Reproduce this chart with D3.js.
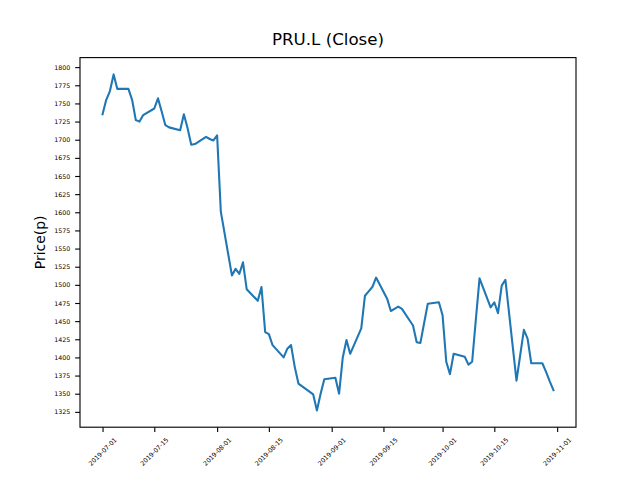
<!DOCTYPE html>
<html><head><meta charset="utf-8">
<script src="https://cdn.jsdelivr.net/npm/d3@7"></script>
<style>body{margin:0;background:#fff} svg{display:block} text{font-family:"DejaVu Sans",sans-serif}</style>
</head><body><svg id="c" width="640" height="480"></svg>
<script>
const dates = [
"2019-07-01","2019-07-02","2019-07-03","2019-07-04","2019-07-05",
"2019-07-08","2019-07-09","2019-07-10","2019-07-11","2019-07-12",
"2019-07-15","2019-07-16","2019-07-17","2019-07-18","2019-07-19",
"2019-07-22","2019-07-23","2019-07-24","2019-07-25","2019-07-26",
"2019-07-29","2019-07-30","2019-07-31","2019-08-01","2019-08-02",
"2019-08-05","2019-08-06","2019-08-07","2019-08-08","2019-08-09",
"2019-08-12","2019-08-13","2019-08-14","2019-08-15","2019-08-16",
"2019-08-19","2019-08-20","2019-08-21","2019-08-22","2019-08-23",
"2019-08-27","2019-08-28","2019-08-29","2019-08-30",
"2019-09-02","2019-09-03","2019-09-04","2019-09-05","2019-09-06",
"2019-09-09","2019-09-10","2019-09-11","2019-09-12","2019-09-13",
"2019-09-16","2019-09-17","2019-09-18","2019-09-19","2019-09-20",
"2019-09-23","2019-09-24","2019-09-25","2019-09-26","2019-09-27",
"2019-09-30","2019-10-01","2019-10-02","2019-10-03","2019-10-04",
"2019-10-07","2019-10-08","2019-10-09","2019-10-10","2019-10-11",
"2019-10-14","2019-10-15","2019-10-16","2019-10-17","2019-10-18",
"2019-10-21","2019-10-22","2019-10-23","2019-10-24","2019-10-25",
"2019-10-28","2019-10-29","2019-10-30","2019-10-31"];
const closes = [
1735,1755,1767,1790,1770,
1770,1755,1727,1725,1734,
1743,1757,1739,1720,1717,
1713,1735,1716,1693,1694,
1704,1701,1699,1706,1601,
1513,1522,1515,1531,1494,
1478,1497,1435,1432,1417,
1400,1412,1417,1387,1364,
1349,1327,1350,1370,
1372,1350,1400,1424,1405,
1440,1485,1491,1497,1510,
1481,1464,1467,1470,1467,
1444,1421,1420,1447,1474,
1476,1458,1394,1377,1405,
1401,1390,1394,1452,1509,
1469,1476,1461,1499,1507,
1368,1403,1438,1426,1392,
1392,1380,1367,1355];
const xTickDates = ["2019-07-01","2019-07-15","2019-08-01","2019-08-15","2019-09-01","2019-09-15","2019-10-01","2019-10-15","2019-11-01"];
const yTicks = [1325,1350,1375,1400,1425,1450,1475,1500,1525,1550,1575,1600,1625,1650,1675,1700,1725,1750,1775,1800];
const titleText = "PRU.L (Close)";
const yLabelText = "Price(p)";

const W=640,H=480,L=80,R=576,T=57.6,B=427.2;
const pt=100/72, tickLen=3.5*pt, pad=3.5*pt, fs=6.3;
const parse = d3.utcParse("%Y-%m-%d");
const data = dates.map((d,i)=>({date:parse(d), v:closes[i]}));
const xe = d3.extent(data,d=>d.date), xs = xe[1]-xe[0];
const x = d3.scaleUtc().domain([new Date(+xe[0]-0.05*xs), new Date(+xe[1]+0.05*xs)]).range([L,R]);
const ye = d3.extent(data,d=>d.v), ys = ye[1]-ye[0];
const y = d3.scaleLinear().domain([ye[0]-0.05*ys, ye[1]+0.05*ys]).range([B,T]);

const svg = d3.select("#c");
svg.append("rect").attr("width",W).attr("height",H).attr("fill","#fff");

svg.append("path").datum(data)
  .attr("d", d3.line().x(d=>x(d.date)).y(d=>y(d.v)))
  .attr("fill","none").attr("stroke","#1f77b4").attr("stroke-width",1.5*pt)
  .attr("stroke-linejoin","round").attr("stroke-linecap","square");

const gy = svg.append("g").attr("transform",`translate(${L},0)`)
  .call(d3.axisLeft(y).tickValues(yTicks).tickSize(tickLen).tickPadding(pad).tickFormat(d3.format("d")));
gy.select(".domain").remove();
gy.selectAll(".tick line").attr("stroke","#000").attr("stroke-width",0.8*pt);
gy.selectAll(".tick text").attr("font-size",fs).attr("fill","#000").attr("font-family","DejaVu Sans");

const gx = svg.append("g").attr("transform",`translate(0,${B})`)
  .call(d3.axisBottom(x).tickValues(xTickDates.map(parse)).tickSize(tickLen).tickPadding(pad).tickFormat(d3.utcFormat("%Y-%m-%d")));
gx.select(".domain").remove();
gx.selectAll(".tick line").attr("stroke","#000").attr("stroke-width",0.8*pt);
gx.selectAll(".tick text").each(function(){
  const t = d3.select(this);
  t.attr("font-size",fs).attr("fill","#000").attr("font-family","DejaVu Sans")
   .attr("dy",null).attr("text-anchor","end").attr("x",0).attr("y",0);
  const Lt = this.getComputedTextLength();
  const a = 0.76*fs, dsc = 0.24*fs;
  const ax = Math.SQRT1_2*(Lt + a - dsc)/2;
  const ay = tickLen + pad + Math.SQRT1_2*a;
  t.attr("transform",`translate(${ax},${ay}) rotate(-45)`);
});

svg.append("rect").attr("x",L).attr("y",T).attr("width",R-L).attr("height",B-T)
  .attr("fill","none").attr("stroke","#000").attr("stroke-width",0.8*pt);

svg.append("text").attr("x",(L+R)/2).attr("y",T-6*pt-0.236*12*pt)
  .attr("text-anchor","middle").attr("font-size",12*pt).attr("fill","#000").text(titleText);

svg.append("text").attr("transform",`translate(45.4,${(T+B)/2}) rotate(-90)`)
  .attr("text-anchor","middle").attr("font-size",10*pt).attr("fill","#000").text(yLabelText);
</script></body></html>
